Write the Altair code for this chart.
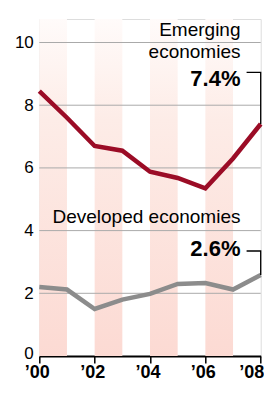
import altair as alt
import pandas as pd

years = [2000, 2001, 2002, 2003, 2004, 2005, 2006, 2007, 2008]
emerging = [8.45, 7.6, 6.7, 6.55, 5.88, 5.68, 5.35, 6.3, 7.4]
developed = [2.2, 2.12, 1.5, 1.8, 1.98, 2.3, 2.33, 2.12, 2.58]
stripe_start = [2000, 2002, 2004, 2006]
grid_values = [2, 4, 6, 8, 10]
y_ticks = [0, 2, 4, 6, 8, 10]

FONT = "Liberation Sans"
RED = "#9b0c26"
GRAY = "#8c8c8c"
YTOP = 10.75
W = 221.4
H = 337

lines_df = pd.DataFrame(
    [{"year": y, "value": v, "series": "Emerging"} for y, v in zip(years, emerging)]
    + [{"year": y, "value": v, "series": "Developed"} for y, v in zip(years, developed)]
)
stripes_df = pd.DataFrame({"x": stripe_start, "x2": [s + 1 for s in stripe_start],
                           "y": [0] * 4, "y2": [YTOP] * 4})
grid_df = pd.DataFrame({"v": grid_values})

xscale = alt.Scale(domain=[2000, 2008], nice=False, zero=False)
yscale = alt.Scale(domain=[0, YTOP], nice=False)

last = years[-1]
stripes = alt.Chart(stripes_df).mark_rect(
    fill=alt.Gradient(gradient="linear",
                      stops=[alt.GradientStop(color="#fffbfa", offset=0),
                             alt.GradientStop(color="#fdece7", offset=0.3),
                             alt.GradientStop(color="#fcdad3", offset=1)],
                      x1=0, x2=0, y1=0, y2=1)
).encode(
    x=alt.X("x:Q", scale=xscale,
            axis=alt.Axis(values=years, title=None, grid=False,
                          labelExpr="datum.value % 2 == 0 ? '\u2019' + substring(toString(datum.value), 2, 4) : ''",
                          labelFont=FONT, labelFontSize=18, labelFontWeight="bold",
                          labelColor="#000", labelPadding=0, labelFlush=False,
                          labelBaseline="top",
                          labelAlign={"condition": {"test": f"datum.value == {last}", "value": "right"}, "value": "center"},
                          labelOffset={"condition": {"test": f"datum.value == {last}", "value": 3}, "value": -2.5},
                          domainColor="#000", domainWidth=2, tickColor="#000",
                          tickWidth=1.5, tickSize=7, labelOverlap=False)),
    x2="x2:Q",
    y=alt.Y("y:Q", scale=yscale,
            axis=alt.Axis(values=y_ticks, title=None, grid=False, domain=False,
                          ticks=False, labelFont=FONT, labelFontSize=17,
                          labelOffset={"condition": {"test": "datum.value == 0", "value": -2.5}, "value": 0},
                          labelColor="#000", labelPadding=6)),
    y2="y2:Q",
)

grid = alt.Chart(grid_df).mark_rule(color="#aaaaaa", strokeWidth=1).encode(
    y=alt.Y("v:Q", scale=yscale),
    x=alt.value(0), x2=alt.value(W),
)

lines = alt.Chart(lines_df).mark_line(strokeWidth=4.5, strokeJoin="miter").encode(
    x=alt.X("year:Q", scale=xscale),
    y=alt.Y("value:Q", scale=yscale),
    color=alt.Color("series:N", scale=alt.Scale(domain=["Emerging", "Developed"],
                                                range=[RED, GRAY]), legend=None),
)

# leader lines (data coordinates)
lx0 = [2007.49, 2007.49]
lx1 = [2008.0, 2008.0]
ly = [9.05, 3.35]
lend = [emerging[-1], developed[-1]]
leader_df = pd.DataFrame({"x": lx0 + lx1 + lx1, "y": ly + ly + lend,
                          "g": ["e", "d", "e", "d", "e", "d"],
                          "o": [0, 0, 1, 1, 2, 2]})
leaders = alt.Chart(leader_df).mark_line(color="#000", strokeWidth=1.3, strokeJoin="miter").encode(
    x=alt.X("x:Q", scale=xscale), y=alt.Y("y:Q", scale=yscale),
    detail="g:N", order="o:Q",
)

label_df = pd.DataFrame({
    "x": [2007.27, 2007.27, 2007.27],
    "y": [10.22, 9.52, 4.24],
    "t": ["Emerging", "economies", "Developed economies"],
})
labels = alt.Chart(label_df).mark_text(font=FONT, fontSize=19, align="right",
                                       baseline="alphabetic", color="#000").encode(
    x=alt.X("x:Q", scale=xscale), y=alt.Y("y:Q", scale=yscale), text="t:N")

val_df = pd.DataFrame({"x": [2007.27, 2007.27], "y": [8.62, 3.2],
                       "t": [f"{emerging[-1]:.1f}%", f"{developed[-1]:.1f}%"]})
vals = alt.Chart(val_df).mark_text(font=FONT, fontSize=22, fontWeight="bold", align="right",
                                   baseline="alphabetic", color="#000").encode(
    x=alt.X("x:Q", scale=xscale), y=alt.Y("y:Q", scale=yscale), text="t:N")

chart = alt.layer(stripes, grid, lines, leaders, labels, vals).properties(
    width=W, height=H,
    autosize=alt.AutoSizeParams(type="none"),
    padding={"left": 31.3, "top": 11, "right": 3.3, "bottom": 25},
).configure_view(stroke=None).configure(background="white")

chart.save("out.html", embed_options={"renderer": "svg", "actions": False})
